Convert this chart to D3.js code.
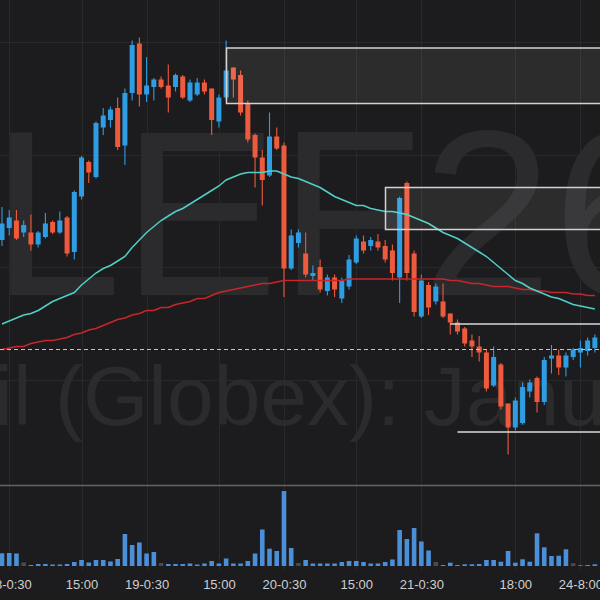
<!DOCTYPE html>
<html><head><meta charset="utf-8">
<script src="https://cdn.jsdelivr.net/npm/d3@7"></script>
<style>html,body{margin:0;padding:0;background:#1c1c1e;} svg{display:block;}</style>
</head><body>
<svg id="chart" width="600" height="600"></svg>
<script>
// ---- data ----
const open = [
59.68,59.76,59.81,59.73,59.73,59.65,59.70,59.80,59.73,59.83,
59.60,59.97,60.20,60.10,60.43,60.48,60.56,60.31,60.66,60.99,
60.65,60.70,60.75,60.71,60.70,60.77,60.61,60.65,60.73,60.69,
60.47,60.63,60.83,60.78,60.59,60.38,60.23,60.11,60.37,60.31,
59.49,59.66,59.59,59.44,59.50,59.34,59.43,59.29,59.37,59.53,
59.67,59.64,59.67,59.64,59.61,59.43,60.06,59.59,59.17,59.38,
59.27,59.27,59.19,59.13,59.09,59.01,58.97,58.93,58.71,58.85,
58.59,58.43,58.46,58.67,58.76,58.60,58.89,58.91,58.83,58.90,
58.93,58.94,58.96];
const high = [
59.90,59.88,59.88,59.81,59.85,59.74,59.86,59.81,59.87,59.84,
60.01,60.24,60.21,60.47,60.56,60.57,60.63,60.69,61.01,61.03,
60.90,60.76,60.77,60.85,60.79,60.78,60.75,60.76,60.75,60.69,
60.65,61.01,60.83,60.81,60.61,60.39,60.28,60.53,60.43,60.33,
59.75,59.75,59.73,59.51,59.55,59.45,59.45,59.43,59.58,59.71,
59.71,59.70,59.72,59.68,59.65,59.97,60.07,59.61,59.45,59.40,
59.39,59.39,59.19,59.15,59.10,59.05,59.04,58.95,58.97,58.86,
58.59,58.63,58.73,58.75,58.77,58.90,58.98,58.95,58.93,58.96,
59.01,59.03,59.05];
const low = [
59.64,59.71,59.68,59.70,59.61,59.63,59.69,59.72,59.72,59.57,
59.55,59.95,60.06,60.09,60.38,60.43,60.28,60.18,60.61,60.57,
60.60,60.61,60.69,60.53,60.67,60.62,60.60,60.64,60.65,60.38,
60.43,60.61,60.63,60.51,60.33,60.03,59.91,60.10,60.28,59.30,
59.48,59.63,59.43,59.41,59.33,59.31,59.30,59.26,59.35,59.52,
59.59,59.61,59.61,59.53,59.41,59.26,59.41,59.17,59.16,59.18,
59.25,59.16,59.05,59.05,58.97,58.90,58.87,58.67,58.70,58.55,
58.25,58.41,58.45,58.63,58.53,58.58,58.79,58.78,58.77,58.88,
58.83,58.91,58.93];
const close = [
59.79,59.83,59.69,59.78,59.65,59.73,59.79,59.73,59.81,59.59,
60.00,60.23,60.13,60.46,60.51,60.55,60.30,60.66,60.98,60.65,
60.71,60.75,60.70,60.63,60.78,60.63,60.73,60.73,60.67,60.48,
60.63,60.81,60.75,60.53,60.35,60.23,60.08,60.37,60.29,59.49,
59.71,59.73,59.45,59.46,59.35,59.43,59.35,59.41,59.55,59.69,
59.61,59.68,59.63,59.55,59.46,59.96,59.46,59.20,59.41,59.23,
59.37,59.17,59.13,59.07,58.99,58.97,58.93,58.69,58.90,58.57,
58.43,58.61,58.70,58.73,58.60,58.88,58.91,58.83,58.91,58.95,
58.96,59.01,59.03];
const volume = [
12700,13000,12500,3500,1000,2000,2000,1500,1500,2000,
4000,6000,3500,6000,6000,4500,7000,32000,21000,23500,
12500,14000,3000,2000,2000,2000,2500,1500,2500,5000,
2500,7500,2500,2500,5000,12500,36500,17300,15000,75000,
18000,3000,6000,2500,2500,2500,2500,4000,5000,5000,
4000,2500,2500,4000,6500,36000,27000,38000,24500,15500,
4000,1000,3300,1000,1700,1700,2000,6000,6000,4300,
15000,3300,6700,4300,32700,18700,10000,10300,16700,2700,
700,1000,1700];
const greyVolume = [3,22,41,60,79];
const maFast = [
59.12,59.14,59.16,59.18,59.19,59.21,59.24,59.27,59.29,59.31,
59.33,59.38,59.42,59.46,59.49,59.51,59.54,59.57,59.63,59.68,
59.73,59.77,59.81,59.84,59.87,59.89,59.92,59.95,59.98,60.01,
60.04,60.08,60.10,60.12,60.13,60.13,60.13,60.14,60.14,60.12,
60.10,60.09,60.07,60.05,60.03,60.00,59.97,59.95,59.93,59.91,
59.91,59.89,59.88,59.87,59.87,59.86,59.85,59.83,59.81,59.79,
59.76,59.73,59.71,59.69,59.66,59.63,59.60,59.57,59.53,59.49,
59.45,59.41,59.39,59.36,59.34,59.32,59.30,59.29,59.27,59.25,
59.24,59.23,59.22];
const maSlow = [
58.95,58.96,58.97,58.97,58.99,59.00,59.01,59.01,59.02,59.03,
59.05,59.06,59.08,59.09,59.11,59.13,59.15,59.16,59.18,59.19,
59.21,59.21,59.23,59.23,59.25,59.26,59.27,59.29,59.29,59.31,
59.33,59.34,59.35,59.36,59.37,59.38,59.39,59.39,59.40,59.41,
59.41,59.41,59.41,59.41,59.41,59.41,59.41,59.41,59.42,59.42,
59.42,59.42,59.42,59.42,59.42,59.42,59.42,59.42,59.42,59.42,
59.42,59.42,59.41,59.41,59.40,59.39,59.39,59.38,59.37,59.37,
59.37,59.36,59.35,59.35,59.34,59.34,59.33,59.33,59.33,59.32,
59.32,59.31,59.31];
const zoneBoxes = [ {start:31, top:60.96, bottom:60.59}, {start:53, top:60.03, bottom:59.75} ];
const zoneLines = [ {start:62, price:59.12}, {start:63, price:58.40} ];
const refPrice = 58.95;
const gridPrices = [61.00, 60.25, 59.50, 58.75];
const tickIdx = [1,11,20,30,39,49,58,71,80];
const tickLabels = ["18-0:30","15:00","19-0:30","15:00","20-0:30","15:00","21-0:30","18:00","24-8:00"];
const symbolText = "CLEF26";
const titleText = "Crude Oil (Globex): January 2026";

// ---- drawing ----
const W = 600, H = 600, paneBottom = 485;
const UP = "#2e9de4", DOWN = "#ee5a3c";
const svg = d3.select("#chart");
svg.append("rect").attr("width", W).attr("height", H).attr("fill", "#1c1c1e");

const x = d3.scaleLinear().domain([0, 82]).range([2, 594.86]);
const y = d3.scaleLinear().domain([57.28, 61.28]).range([600, 0]);
const yv = d3.scaleLinear().domain([0, 80000]).range([566, 486]);

const defs = svg.append("defs");
defs.append("clipPath").attr("id", "pane").append("rect")
  .attr("x", 0).attr("y", 0).attr("width", W).attr("height", paneBottom);

// grid
const grid = svg.append("g").attr("stroke", "#29292b").attr("stroke-width", 1);
grid.selectAll("line.v").data(tickIdx).join("line")
  .attr("x1", d => Math.round(x(d)) + 0.5).attr("x2", d => Math.round(x(d)) + 0.5)
  .attr("y1", 0).attr("y2", 570);
grid.selectAll("line.h").data(gridPrices).join("line")
  .attr("x1", 0).attr("x2", W)
  .attr("y1", d => Math.round(y(d)) + 0.5).attr("y2", d => Math.round(y(d)) + 0.5);

// watermark
const pane = svg.append("g").attr("clip-path", "url(#pane)");
const wm1 = pane.append("text").text(symbolText)
  .attr("font-family", "'Liberation Sans', Arial, sans-serif")
  .attr("font-size", 235).attr("fill", "#2b2b2d").attr("y", 295);
wm1.attr("x", -9 - wm1.node().getSubStringLength(0, 1));
const wm2 = pane.append("text").text(titleText)
  .attr("font-family", "'Liberation Sans', Arial, sans-serif")
  .attr("font-size", 84).attr("fill", "#2b2b2d").attr("y", 425);
wm2.attr("x", 55 - wm2.node().getSubStringLength(0, titleText.indexOf("(")));

// candles
const idx = open.map((d, i) => i);
const cg = pane.append("g");
cg.selectAll("line.wick").data(idx).join("line")
  .attr("x1", i => x(i)).attr("x2", i => x(i))
  .attr("y1", i => y(high[i])).attr("y2", i => y(low[i]))
  .attr("stroke", i => close[i] >= open[i] ? UP : DOWN).attr("stroke-width", 1.1);
cg.selectAll("rect.body").data(idx).join("rect")
  .attr("x", i => x(i) - 2.5).attr("width", 5)
  .attr("y", i => y(Math.max(open[i], close[i])))
  .attr("height", i => Math.max(1.2, Math.abs(y(open[i]) - y(close[i]))))
  .attr("fill", i => close[i] >= open[i] ? UP : DOWN);

// moving averages
const line = d3.line().x((d, i) => x(i)).y(d => y(d));
pane.append("path").datum(maSlow).attr("d", line)
  .attr("fill", "none").attr("stroke", "#c8262b").attr("stroke-width", 1.5);
pane.append("path").datum(maFast).attr("d", line)
  .attr("fill", "none").attr("stroke", "#4fcfc6").attr("stroke-width", 1.5);

// zones
pane.selectAll("rect.zone").data(zoneBoxes).join("rect")
  .attr("x", d => Math.round(x(d.start)) + 0.5).attr("width", 700)
  .attr("y", d => y(d.top)).attr("height", d => y(d.bottom) - y(d.top))
  .attr("fill", "rgba(255,255,255,0.07)").attr("stroke", "#d2d2d2").attr("stroke-width", 1.5);
pane.selectAll("line.zl").data(zoneLines).join("line")
  .attr("x1", d => x(d.start)).attr("x2", W)
  .attr("y1", d => y(d.price)).attr("y2", d => y(d.price))
  .attr("stroke", "#d8d8d8").attr("stroke-width", 1.5);

// reference dashed line
pane.append("line").attr("x1", 0).attr("x2", W)
  .attr("y1", y(refPrice)).attr("y2", y(refPrice))
  .attr("stroke", "#c4c4c4").attr("stroke-width", 1.2).attr("stroke-dasharray", "4,3");

// separator
svg.append("line").attr("x1", 0).attr("x2", W).attr("y1", paneBottom + 0.5).attr("y2", paneBottom + 0.5)
  .attr("stroke", "#646466").attr("stroke-width", 1.5);

// volume
svg.append("g").selectAll("rect").data(idx).join("rect")
  .attr("x", i => x(i) - 2.3).attr("width", 4.6)
  .attr("y", i => yv(volume[i])).attr("height", i => 566 - yv(volume[i]))
  .attr("fill", i => greyVolume.includes(i) ? "#4a4a4d" : "#4a8fd8");

// time axis
const axis = d3.axisBottom(x).tickValues(tickIdx)
  .tickFormat((d, i) => tickLabels[i]).tickSize(0).tickPadding(4);
const ag = svg.append("g").attr("transform", "translate(0,576)").call(axis);
ag.select(".domain").remove();
ag.selectAll("text").attr("fill", "#cfcfcf")
  .attr("font-family", "'Liberation Sans', Arial, sans-serif").attr("font-size", 13);
</script>
</body></html>
